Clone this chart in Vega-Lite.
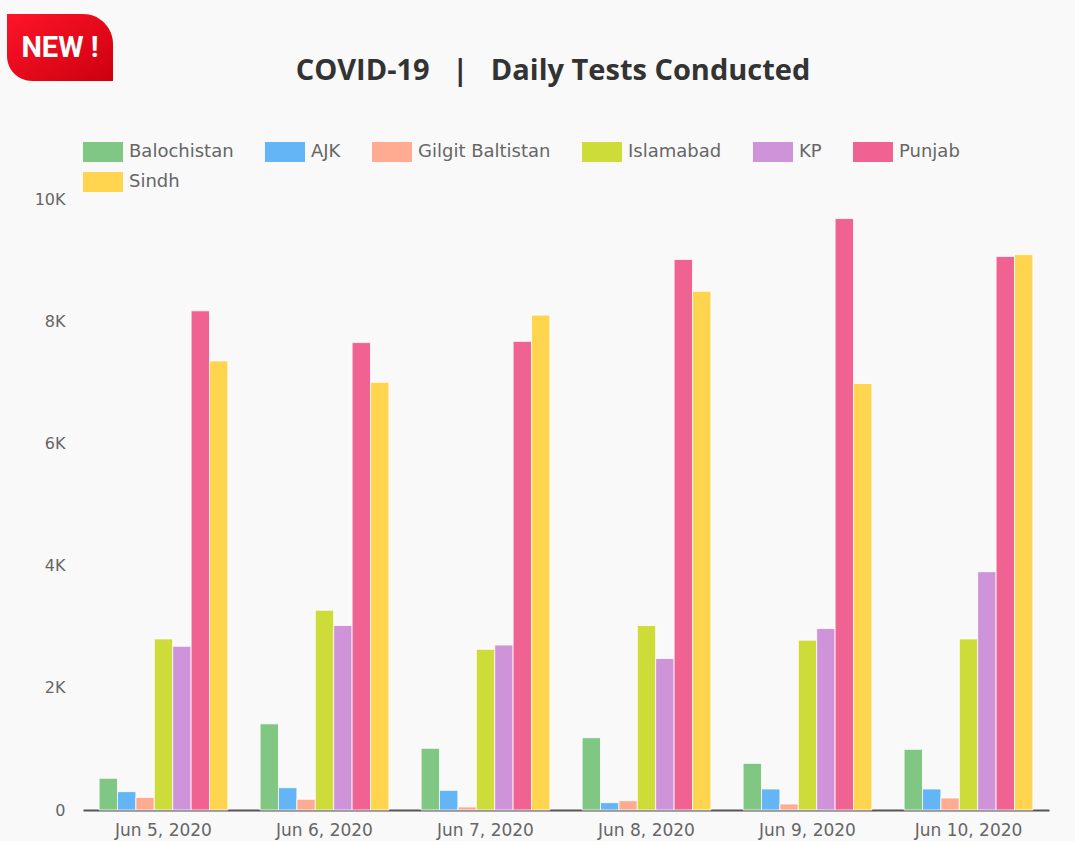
{
  "$schema": "https://vega.github.io/schema/vega-lite/v6.json",
  "background": "#f9f9f9",
  "padding": {"left": 7, "top": 13, "right": 0, "bottom": 3},
  "config": {"view": {"stroke": null}, "font": "DejaVu Sans"},
  "spacing": 14,
  "center": true,
  "resolve": {"legend": {"color": "independent"}, "scale": {"color": "independent"}},
  "vconcat": [
    {
      "spacing": 0,
      "hconcat": [
        {
          "data": {"values": [{"badge": "NEW !"}]},
          "width": 106,
          "height": 67,
          "layer": [
            {
              "mark": {
                "type": "bar",
                "color": {"gradient": "linear", "x1": 0, "y1": 0, "x2": 1, "y2": 1,
                  "stops": [{"offset": 0, "color": "#ff1428"}, {"offset": 1, "color": "#cc0010"}]},
                "cornerRadiusTopRight": 30,
                "cornerRadiusBottomLeft": 25
              },
              "encoding": {}
            },
            {
              "mark": {"type": "text", "color": "white", "font": "Roboto", "fontWeight": "bold", "fontSize": 29},
              "encoding": {"text": {"field": "badge"}}
            }
          ]
        },
        {
          "data": {"values": [{"title": "COVID-19\u00a0\u00a0\u00a0|\u00a0\u00a0\u00a0Daily Tests Conducted"}]},
          "width": 880,
          "height": 114,
          "mark": {"type": "text", "fontSize": 29, "fontWeight": "bold", "color": "#333", "font": "Open Sans"},
          "encoding": {"text": {"field": "title"}}
        },
        {
          "data": {"values": [{"title": ""}]},
          "width": 132,
          "height": 10,
          "mark": {"type": "text"},
          "encoding": {"text": {"field": "title"}}
        }
      ]
    },
    {
      "data": {"values": [
        {"date": "Jun 5, 2020", "province": "Balochistan", "tests": 520},
        {"date": "Jun 5, 2020", "province": "AJK", "tests": 300},
        {"date": "Jun 5, 2020", "province": "Gilgit Baltistan", "tests": 205},
        {"date": "Jun 5, 2020", "province": "Islamabad", "tests": 2800},
        {"date": "Jun 5, 2020", "province": "KP", "tests": 2680},
        {"date": "Jun 5, 2020", "province": "Punjab", "tests": 8170},
        {"date": "Jun 5, 2020", "province": "Sindh", "tests": 7350},
        {"date": "Jun 6, 2020", "province": "Balochistan", "tests": 1410},
        {"date": "Jun 6, 2020", "province": "AJK", "tests": 365},
        {"date": "Jun 6, 2020", "province": "Gilgit Baltistan", "tests": 175},
        {"date": "Jun 6, 2020", "province": "Islamabad", "tests": 3270},
        {"date": "Jun 6, 2020", "province": "KP", "tests": 3020},
        {"date": "Jun 6, 2020", "province": "Punjab", "tests": 7650},
        {"date": "Jun 6, 2020", "province": "Sindh", "tests": 7000},
        {"date": "Jun 7, 2020", "province": "Balochistan", "tests": 1010},
        {"date": "Jun 7, 2020", "province": "AJK", "tests": 322},
        {"date": "Jun 7, 2020", "province": "Gilgit Baltistan", "tests": 50},
        {"date": "Jun 7, 2020", "province": "Islamabad", "tests": 2630},
        {"date": "Jun 7, 2020", "province": "KP", "tests": 2700},
        {"date": "Jun 7, 2020", "province": "Punjab", "tests": 7670},
        {"date": "Jun 7, 2020", "province": "Sindh", "tests": 8100},
        {"date": "Jun 8, 2020", "province": "Balochistan", "tests": 1183},
        {"date": "Jun 8, 2020", "province": "AJK", "tests": 120},
        {"date": "Jun 8, 2020", "province": "Gilgit Baltistan", "tests": 152},
        {"date": "Jun 8, 2020", "province": "Islamabad", "tests": 3020},
        {"date": "Jun 8, 2020", "province": "KP", "tests": 2480},
        {"date": "Jun 8, 2020", "province": "Punjab", "tests": 9010},
        {"date": "Jun 8, 2020", "province": "Sindh", "tests": 8490},
        {"date": "Jun 9, 2020", "province": "Balochistan", "tests": 764},
        {"date": "Jun 9, 2020", "province": "AJK", "tests": 344},
        {"date": "Jun 9, 2020", "province": "Gilgit Baltistan", "tests": 98},
        {"date": "Jun 9, 2020", "province": "Islamabad", "tests": 2780},
        {"date": "Jun 9, 2020", "province": "KP", "tests": 2970},
        {"date": "Jun 9, 2020", "province": "Punjab", "tests": 9680},
        {"date": "Jun 9, 2020", "province": "Sindh", "tests": 6980},
        {"date": "Jun 10, 2020", "province": "Balochistan", "tests": 993},
        {"date": "Jun 10, 2020", "province": "AJK", "tests": 344},
        {"date": "Jun 10, 2020", "province": "Gilgit Baltistan", "tests": 196},
        {"date": "Jun 10, 2020", "province": "Islamabad", "tests": 2800},
        {"date": "Jun 10, 2020", "province": "KP", "tests": 3900},
        {"date": "Jun 10, 2020", "province": "Punjab", "tests": 9060},
        {"date": "Jun 10, 2020", "province": "Sindh", "tests": 9090}
      ]},
      "width": 966,
      "height": 611,
      "mark": {"type": "bar", "stroke": "white", "strokeWidth": 1, "strokeOpacity": 0.8},
      "encoding": {
        "x": {
          "field": "date", "type": "ordinal",
          "sort": ["Jun 5, 2020", "Jun 6, 2020", "Jun 7, 2020", "Jun 8, 2020", "Jun 9, 2020", "Jun 10, 2020"],
          "scale": {"paddingInner": 0.2, "paddingOuter": 0.1},
          "axis": {"title": null, "labelAngle": 0, "ticks": false, "domainColor": "#555", "domainWidth": 2,
            "labelFontSize": 17, "labelColor": "#666", "labelPadding": 12, "labelFont": "DejaVu Sans"}
        },
        "xOffset": {
          "field": "province", "type": "nominal",
          "sort": ["Balochistan", "AJK", "Gilgit Baltistan", "Islamabad", "KP", "Punjab", "Sindh"],
          "scale": {"paddingInner": 0, "paddingOuter": 0}
        },
        "y": {
          "field": "tests", "type": "quantitative",
          "scale": {"domain": [0, 10000], "nice": false},
          "axis": {"title": null, "domain": false, "ticks": false, "grid": false,
            "values": [0, 2000, 4000, 6000, 8000, 10000],
            "labelExpr": "datum.value == 0 ? '0' : (datum.value / 1000) + 'K'",
            "labelFontSize": 16, "labelColor": "#666", "labelPadding": 18, "minExtent": 76, "labelFont": "DejaVu Sans"}
        },
        "color": {
          "field": "province", "type": "nominal",
          "scale": {
            "domain": ["Balochistan", "AJK", "Gilgit Baltistan", "Islamabad", "KP", "Punjab", "Sindh"],
            "range": ["#81c784", "#64b5f6", "#ffab91", "#cddc39", "#ce93d8", "#f06292", "#ffd54f"]
          },
          "legend": {
            "orient": "top", "title": null, "columns": 6,
            "symbolType": "M-1,-1H3V1H-1Z", "symbolSize": 400, "symbolStrokeWidth": 0, "symbolOpacity": 1,
            "labelFontSize": 18, "labelColor": "#666", "labelFont": "DejaVu Sans", "labelOffset": 26,
            "columnPadding": 31, "rowPadding": 10, "offset": 7
          }
        }
      }
    }
  ]
}
